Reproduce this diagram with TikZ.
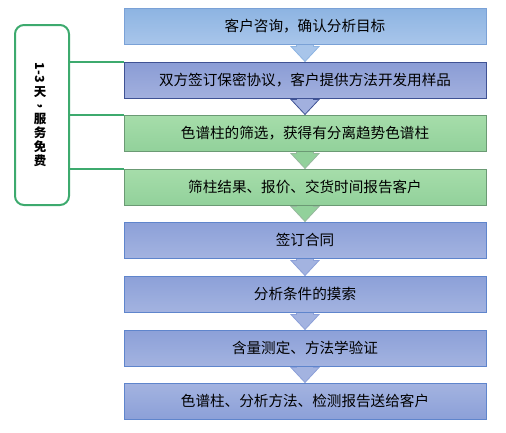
\documentclass[tikz,border=0pt]{standalone}
\usepackage{fontspec}
\setmainfont{Noto Sans CJK SC}
\usetikzlibrary{calc,backgrounds}

\definecolor{skytop}{HTML}{8DB4E2}
\definecolor{skybot}{HTML}{A8C5EA}
\definecolor{skyline}{HTML}{7AA1D6}
\definecolor{indtop}{HTML}{8A9CD5}
\definecolor{indbot}{HTML}{A2B0DE}
\definecolor{indline}{HTML}{3F5294}
\definecolor{leaftop}{HTML}{A6DDAA}
\definecolor{leafbot}{HTML}{92D19B}
\definecolor{leafline}{HTML}{6B9A74}
\definecolor{bluetop}{HTML}{8CA0D8}
\definecolor{bluebot}{HTML}{A3B3E0}
\definecolor{blueline}{HTML}{5F85CC}
\definecolor{tagline}{HTML}{3DAA6E}

\tikzset{
  stepbox/.style={draw, line width=1pt, minimum width=362pt, minimum height=36pt,
    inner sep=0pt, font=\fontsize{14.6}{16}\selectfont},
  tagbox/.style={draw=tagline, line width=2pt, rounded corners=9pt,
    minimum width=54pt, minimum height=180pt, inner sep=0pt},
  tagwire/.style={draw=tagline, line width=2pt},
}

% block arrow from the foot of one box to the head of the next
\newcommand{\flowarrow}[4]{%
  \filldraw[fill=#3, draw=#4, line width=0.8pt]
    ($(#1.south)+(-8.5,-2)$) -- ($(#2.north)+(-8.5,-15)$) -- ($(#2.north)+(-14,-15)$)
    -- (#2.north) -- ($(#2.north)+(14,-15)$) -- ($(#2.north)+(8.5,-15)$)
    -- ($(#1.south)+(8.5,-2)$) -- cycle;%
}

\begin{document}
\begin{tikzpicture}[x=1pt,y=-1pt]%
\useasboundingbox (0,0) rectangle (506,432);%

\def\xpos{305};%
%
\node[stepbox, draw=skyline, top color=skytop, bottom color=skybot] (step1) at (\xpos,26) {客户咨询，确认分析目标};%
\node[stepbox, draw=indline, top color=indtop, bottom color=indbot] (step2) at (\xpos,80) {双方签订保密协议，客户提供方法开发用样品};%
\node[stepbox, draw=leafline, top color=leaftop, bottom color=leafbot] (step3) at (\xpos,133) {色谱柱的筛选，获得有分离趋势色谱柱};%
\node[stepbox, draw=leafline, top color=leaftop, bottom color=leafbot] (step4) at (\xpos,187) {筛柱结果、报价、交货时间报告客户};%
\node[stepbox, draw=blueline, top color=bluetop, bottom color=bluebot] (step5) at (\xpos,240) {签订合同};%
\node[stepbox, draw=blueline, top color=bluetop, bottom color=bluebot] (step6) at (\xpos,294) {分析条件的摸索};%
\node[stepbox, draw=blueline, top color=bluetop, bottom color=bluebot] (step7) at (\xpos,348) {含量测定、方法学验证};%
\node[stepbox, draw=blueline, top color=bluebot, bottom color=bluetop] (step8) at (\xpos,401) {色谱柱、分析方法、检测报告送给客户};%
%
\begin{pgfonlayer}{background}
\flowarrow{step1}{step2}{skybot}{skytop}%
\flowarrow{step2}{step3}{indbot}{indline}%
\flowarrow{step3}{step4}{leafbot}{leafline!70}%
\flowarrow{step4}{step5}{leafbot}{leafline!70}%
\flowarrow{step5}{step6}{bluebot}{bluetop}%
\flowarrow{step6}{step7}{bluebot}{bluetop}%
\flowarrow{step7}{step8}{bluebot}{bluetop}%
\end{pgfonlayer}
%
% free service period
\node[tagbox] (free) at (42,115) {};%
\node[font=\fontsize{12.5}{14}\selectfont\bfseries, align=center, inner sep=0pt] (freetext) at (40,115)
  {\rotatebox[origin=c]{-90}{1-3}\\[3pt]天\\[-2pt]\rotatebox[origin=c]{-90}{，}\\[-2pt]服\\务\\免\\费};%
\draw[tagwire] (step2.north west) -- (step2.north west -| free.east);%
\draw[tagwire] (step3.north west) -- (step3.north west -| free.east);%
\draw[tagwire] (step4.north west) -- (step4.north west -| free.east);%
%
\end{tikzpicture}
\end{document}
